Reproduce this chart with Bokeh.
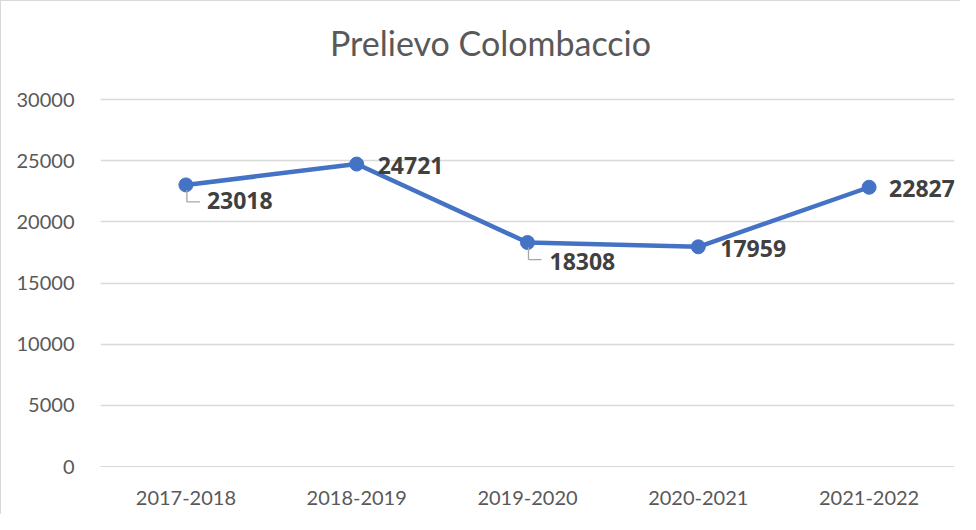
from bokeh.plotting import figure
from bokeh.models import ColumnDataSource, FactorRange, FixedTicker, LabelSet
from bokeh.core.properties import value
from bokeh.transform import dodge
from bokeh.embed import file_html
from bokeh.resources import INLINE

# ---- data ----
title_text = "Prelievo Colombaccio"
categories = ["2017-2018", "2018-2019", "2019-2020", "2020-2021", "2021-2022"]
values = [23018, 24721, 18308, 17959, 22827]
y_ticks = [0, 5000, 10000, 15000, 20000, 25000, 30000]
y_max = 30000

# ---- styling / layout (pixels) ----
FONT = "Lato"
BFONT = "Open Sans"
BLUE = "#4472C4"
GRID = "#D9D9D9"
TXT = "#595959"
LBL = "#404040"

W, H = 960, 514
B_LEFT, B_RIGHT, B_TOP, B_BOTTOM = 99, 7, 10, 49
GRID_TOP = 98                      # pixel row of the top gridline (y_max)
TITLE_ROW = 41                     # pixel row of the title anchor
frame_bottom = H - B_BOTTOM
ypx = y_max / (frame_bottom - GRID_TOP)          # data units per pixel
y_end = (frame_bottom - B_TOP) * ypx
xpx = 1.0 / ((W - B_LEFT - B_RIGHT) / len(categories))

p = figure(x_range=FactorRange(*categories, range_padding=0), y_range=(0, y_end),
           width=W, height=H, output_backend="svg", toolbar_location=None,
           title=None, min_border_left=B_LEFT, min_border_right=B_RIGHT,
           min_border_top=B_TOP, min_border_bottom=B_BOTTOM)
p.styles = {"border-left": "1px solid #D9D9D9", "border-top": "1px solid #D9D9D9"}
p.outline_line_color = None
p.background_fill_color = "white"
p.border_fill_color = "white"

p.xgrid.grid_line_color = None
p.ygrid.grid_line_color = GRID
p.ygrid.grid_line_width = 1.3
p.yaxis.ticker = FixedTicker(ticks=y_ticks)

for ax in (p.xaxis, p.yaxis):
    ax.axis_line_color = None
    ax.major_tick_line_color = None
    ax.minor_tick_line_color = None
    ax.major_label_text_font = FONT
    ax.major_label_text_font_size = "20px"
    ax.major_label_text_color = TXT
p.xaxis.major_label_standoff = 18
p.yaxis.major_label_standoff = 20
p.xaxis.axis_line_color = GRID

# chart title, drawn as text above the top gridline
tsrc = ColumnDataSource(dict(cat=[categories[len(categories) // 2]],
                             y=[(frame_bottom - TITLE_ROW) * ypx], t=[title_text]))
p.text(x="cat", y="y", text="t", source=tsrc, x_offset=-37,
       text_font=value(FONT), text_font_size=value("34px"),
       text_color=TXT, text_align="center", text_baseline="alphabetic")

label_dx = [21, 21, 22, 22, 20]
label_dy = [-16, -1, -19, -2, -1]

src = ColumnDataSource(dict(cat=categories, val=values,
                            txt=[str(v) for v in values],
                            dx=label_dx, dy=label_dy))

p.line("cat", "val", source=src, line_color=BLUE, line_width=4.5)
p.scatter("cat", "val", source=src, size=14, fill_color=BLUE, line_color=BLUE)

# leader lines for the labels placed below-right of their points
lead_idx = [0, 2]
lsrc = ColumnDataSource(dict(
    cat=[categories[i] for i in lead_idx],
    yv0=[values[i] - 5 * ypx for i in lead_idx],
    yv1=[values[i] - 17 * ypx for i in lead_idx],
))
p.segment(x0=dodge("cat", 1 * xpx, range=p.x_range), y0="yv0",
          x1=dodge("cat", 1 * xpx, range=p.x_range), y1="yv1",
          source=lsrc, line_color="#A6A6A6", line_width=1.3)
p.segment(x0=dodge("cat", 1 * xpx, range=p.x_range), y0="yv1",
          x1=dodge("cat", 14 * xpx, range=p.x_range), y1="yv1",
          source=lsrc, line_color="#A6A6A6", line_width=1.3)

labels = LabelSet(x="cat", y="val", text="txt", source=src,
                  x_offset="dx", y_offset="dy",
                  text_font=value(BFONT), text_font_size=value("23px"),
                  text_font_style=value("bold"),
                  text_color=value(LBL), text_align=value("left"),
                  text_baseline=value("middle"))
p.add_layout(labels)

open("out.html", "w").write(file_html(p, INLINE))
